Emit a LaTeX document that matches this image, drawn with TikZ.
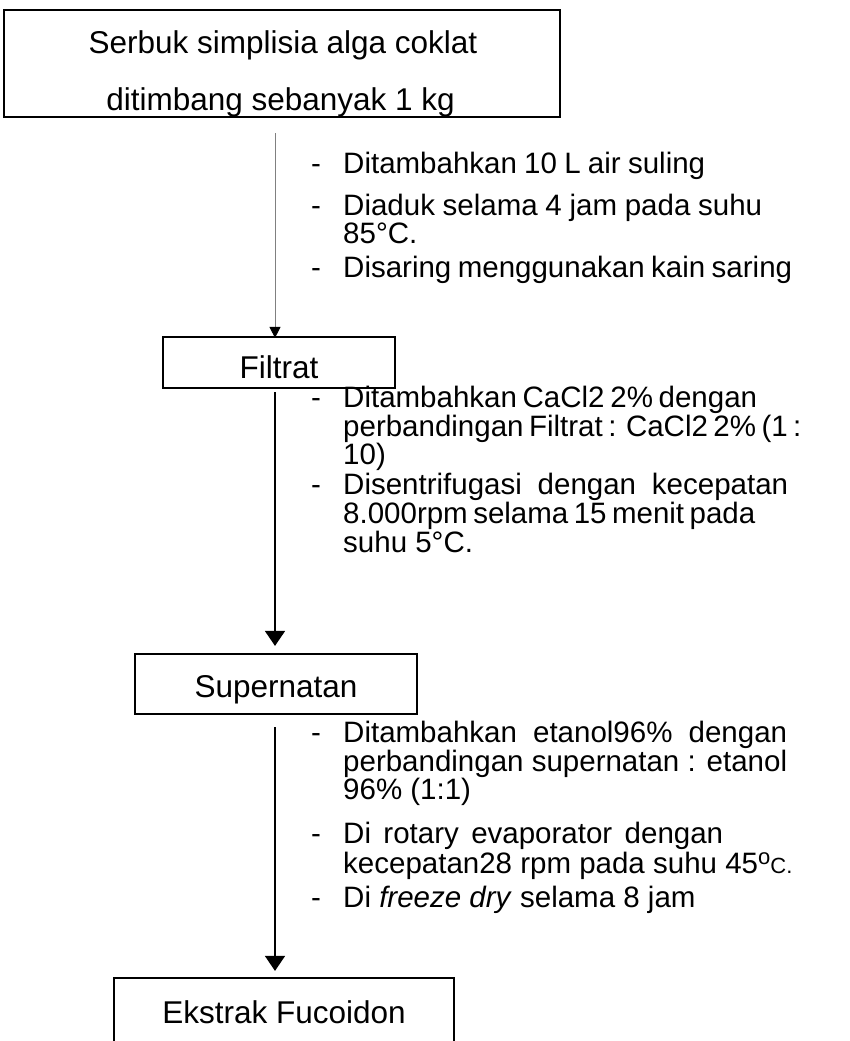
\documentclass[tikz,border=0pt]{standalone}
\usepackage{fontspec}
\setmainfont{Liberation Sans}
\usetikzlibrary{arrows.meta}
\newcommand{\fitline}[2]{\makebox[#1pt][s]{#2}}

\begin{document}
\begin{tikzpicture}[x=1pt, y=-1pt,
  font=\fontsize{29.5}{30}\selectfont,
  box/.style={draw, line width=2.2pt, inner sep=0pt, font=\fontsize{31.5}{32}\selectfont},
  txt/.style={anchor=base west, inner sep=0pt},
  arr/.style={-{Triangle[width=20pt,length=15pt]}, line width=1.6pt}]
\useasboundingbox (0,0) rectangle (849,1041);
\clip (0,0) rectangle (849,1041);
\coordinate (axis) at (275,0);
% boxes
\node[box, minimum width=556pt, minimum height=107pt] (serbuk) at (282,63.5) {};
\node[anchor=base, inner sep=0pt, font=\fontsize{31.5}{32}\selectfont] (serbukA) at (283,53) {Serbuk simplisia alga coklat};
\node[anchor=base, inner sep=0pt, font=\fontsize{31.5}{32}\selectfont] (serbukB) at (280.5,110) {ditimbang sebanyak 1 kg};
\node[box, minimum width=232pt, minimum height=51pt, text height=41pt, text depth=10pt] (filtrat) at (279,362.5) {Filtrat};
\node[box, minimum width=282pt, minimum height=60pt, text height=43pt, text depth=17pt] (supernatan) at (276,684) {Supernatan};
\node[box, minimum width=340pt, minimum height=92pt, text height=45pt, text depth=47pt] (ekstrak) at (284,1024) {Ekstrak Fucoidon};
% arrows
\draw[-{Triangle[width=11pt,length=11pt,color=black]}, draw=black!50, line width=1pt, shorten <=15pt, shorten >=-2pt] (serbuk.south -| axis) -- (filtrat.north -| axis);
\draw[arr, shorten <=3pt, shorten >=7pt] (filtrat.south -| axis) -- (supernatan.north -| axis);
\draw[arr, line width=1.4pt, shorten <=12pt, shorten >=6pt] (supernatan.south -| axis) -- (ekstrak.north -| axis);
% step 1
\node[txt] (d11) at (311,173) {-};
\node[txt] (t11) at (343,173) {\fitline{362}{Ditambahkan 10 L air suling}};
\node[txt] (d12) at (311,215) {-};
\node[txt] (t12) at (343,215) {\fitline{419}{Diaduk selama 4 jam pada suhu}};
\node[txt] (t12b) at (343,243) {85°C.};
\node[txt] (d13) at (311,277) {-};
\node[txt] (t13) at (343,277) {\fitline{449}{Disaring menggunakan kain saring}};
% step 2
\node[txt] (d21) at (311,407) {-};
\node[txt] (t21) at (343,407) {\fitline{414}{Ditambahkan CaCl2 2\% dengan}};
\node[txt] (t21b) at (343,436) {\fitline{452}{perbandingan Filtrat : CaCl2 2\% (1 :}};
\node[txt] (t21c) at (343,464) {10)};
\node[txt] (d22) at (311,494) {-};
\node[txt] (t22) at (343,494) {\fitline{445}{Disentrifugasi dengan kecepatan}};
\node[txt] (t22b) at (343,523) {\fitline{402}{8.000rpm selama 15 menit pada}};
\node[txt] (t22c) at (343,552) {suhu 5°C.};
% step 3
\node[txt] (d31) at (311,742) {-};
\node[txt] (t31) at (343,742) {\fitline{444}{Ditambahkan etanol96\% dengan}};
\node[txt] (t31b) at (343,771) {\fitline{444}{perbandingan supernatan : etanol}};
\node[txt] (t31c) at (343,799) {96\% (1:1)};
\node[txt] (d32) at (311,843) {-};
\node[txt] (t32) at (343,843) {\fitline{380}{Di rotary evaporator dengan}};
\node[txt] (t32b) at (343,873) {kecepatan28 rpm pada suhu 45{\fontsize{22}{22}\selectfont\raisebox{9pt}{o}C.}};
\node[txt] (d33) at (311,907) {-};
\node[txt] (t33) at (343,907) {Di \textit{freeze dry} selama 8 jam};
\end{tikzpicture}
\end{document}
